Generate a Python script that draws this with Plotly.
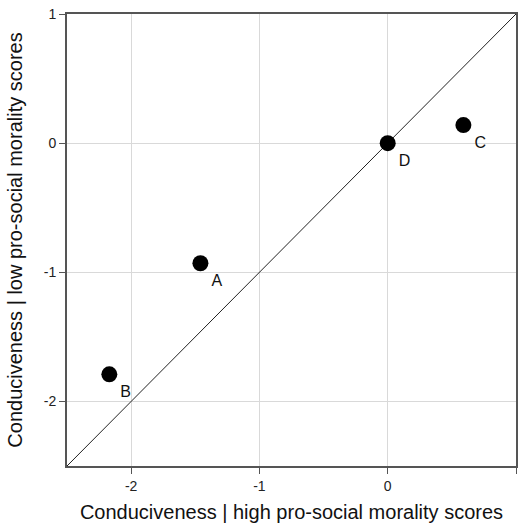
import plotly.graph_objects as go

# Conduciveness of each condition under high vs low pro-social morality
labels = ["A", "B", "C", "D"]
high_scores = [-1.46, -2.17, 0.59, 0.0]
low_scores = [-0.93, -1.79, 0.14, 0.0]

identity = [-2.5, 1.0]
tick_vals = [-2, -1, 0, 1]
tick_text = ["-2", "-1", "0", "1"]

FONT = "Liberation Sans, Arial, sans-serif"

fig = go.Figure()

# identity line
fig.add_trace(go.Scatter(
    x=identity, y=identity, mode="lines",
    line=dict(color="#222222", width=1), hoverinfo="skip", showlegend=False,
))

fig.add_trace(go.Scatter(
    x=high_scores, y=low_scores, mode="markers+text",
    marker=dict(size=16, color="black"),
    text=labels, textposition="bottom right",
    textfont=dict(family=FONT, size=16, color="#111111"),
    showlegend=False,
))

axis_common = dict(
    range=[-2.5, 1.0],
    tickvals=tick_vals, ticktext=tick_text,
    showgrid=True, gridcolor="#d9d9d9", gridwidth=1,
    zeroline=False,
    showline=True, linecolor="#555555", linewidth=2, mirror=True,
    ticks="outside", ticklen=6, tickcolor="#555555", tickwidth=1,
    tickfont=dict(family=FONT, size=14, color="#222222"),
)

fig.update_layout(
    width=518, height=532,
    margin=dict(l=67, r=0, t=14, b=66),
    paper_bgcolor="white", plot_bgcolor="white",
    xaxis=dict(
        **axis_common,
        title=dict(text="Conduciveness | high pro-social morality scores",
                   font=dict(family=FONT, size=20, color="#111111"),
                   standoff=12),
    ),
    yaxis=dict(
        **axis_common,
        title=dict(text="Conduciveness | low pro-social morality scores",
                   font=dict(family=FONT, size=20, color="#111111"),
                   standoff=16),
    ),
)

fig.write_html("out.html")
